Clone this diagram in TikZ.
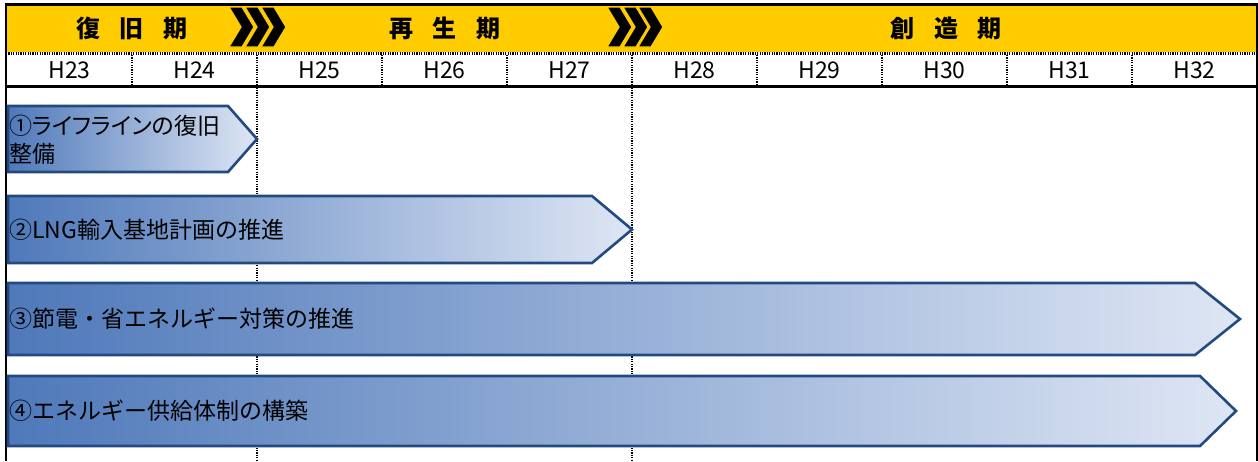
\documentclass[tikz,border=0pt]{standalone}
\usepackage{fontspec}
\setmainfont{Noto Sans CJK JP}
\definecolor{band}{RGB}{255,204,0}
\definecolor{edgeblue}{RGB}{35,74,128}
\definecolor{gradL}{RGB}{79,121,186}
\definecolor{gradR}{RGB}{222,230,244}
\tikzset{
  frameline/.style={black,line width=2pt},
  heavyline/.style={black,line width=3pt},
  dotline/.style={black,line width=2.6pt,dash pattern=on 1.2pt off 1.2pt},
  hdotline/.style={black,line width=2.6pt,dash pattern=on 1.2pt off 1.2pt},
  chevron/.style={fill=black,draw=band,line width=1.2pt,line join=miter},
  barrow/.style={left color=gradL,right color=gradR,draw=edgeblue,line width=2.6pt,line join=miter},
  periodlabel/.style={font=\fontsize{24}{26}\selectfont\bfseries,inner sep=0pt},
  yearlabel/.style={font=\fontsize{23}{25}\selectfont,inner sep=0pt},
  arrowlabel/.style={font=\fontsize{23}{28}\selectfont,inner sep=0pt,anchor=west,align=left}
}
\begin{document}
\begin{tikzpicture}[x=1pt,y=-1pt]
\useasboundingbox (0,0) rectangle (1258,461);
% header band
\fill[band] (6,5) rectangle (1256,52);
\draw[heavyline] (4.5,4) -- (1257.5,4);
% period labels
\node[periodlabel] (p1) at (132,28.5) {復\hspace{20pt}旧\hspace{20pt}期};
\node[periodlabel] (p2) at (445,28.5) {再\hspace{20pt}生\hspace{20pt}期};
\node[periodlabel] (p3) at (946,28.5) {創\hspace{20pt}造\hspace{20pt}期};
% chevrons
\foreach \x in {229,245,261} {
  \path[chevron] (\x,7) -- ++(13,0) -- ++(12,20) -- ++(-12,20) -- ++(-13,0) -- ++(12,-20) -- cycle;
}
\foreach \x in {607,623,638} {
  \path[chevron] (\x,7) -- ++(13,0) -- ++(12,20) -- ++(-12,20) -- ++(-13,0) -- ++(12,-20) -- cycle;
}
% year row
\draw[hdotline] (6,53.5) -- (1256,53.5);
\foreach \x in {132,257,382,507,632,757,882,1007,1132} {
  \draw[dotline] (\x,55) -- (\x,84.5);
}
\foreach \lab [count=\i from 0] in {H23,H24,H25,H26,H27,H28,H29,H30,H31,H32} {
  \node[yearlabel] (y\i) at ({69.5+125*\i},70.5) {\lab};
}
\draw[heavyline] (4.5,86) -- (1257.5,86);
% long vertical dotted lines
\draw[dotline] (257,87.5) -- (257,461);
\draw[dotline] (632,87.5) -- (632,461);
% frame sides
\draw[frameline] (6,3) -- (6,461);
\draw[frameline] (1256.5,3) -- (1256.5,461);
% arrows
\path[barrow] (8,106) -- (228,106) -- (257,139) -- (228,172) -- (8,172) -- cycle;
\path[barrow] (8,196) -- (592,196) -- (632,229.5) -- (592,263) -- (8,263) -- cycle;
\path[barrow] (8,283) -- (1195,283) -- (1240,319) -- (1195,355) -- (8,355) -- cycle;
\path[barrow] (8,376) -- (1200,376) -- (1236,411) -- (1200,446) -- (8,446) -- cycle;
% arrow labels
\node[arrowlabel] (a1) at (9,140) {\addfontfeature{RawFeature=+palt}①ライフラインの復旧\\整備};
\node[arrowlabel] (a2) at (9,229.5) {②LNG輸入基地計画の推進};
\node[arrowlabel] (a3) at (9,319) {③節電・省エネルギー対策の推進};
\node[arrowlabel] (a4) at (9,411) {④エネルギー供給体制の構築};
\end{tikzpicture}
\end{document}
